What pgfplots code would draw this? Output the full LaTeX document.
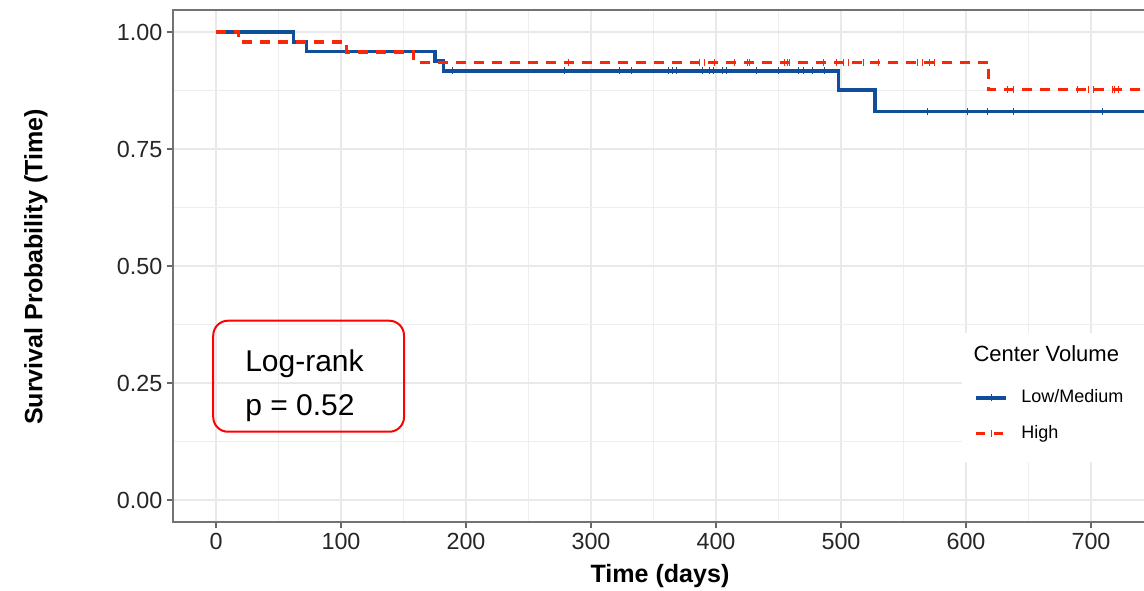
\documentclass[border=0pt]{standalone}
\usepackage{pgfplots}
\pgfplotsset{compat=1.18}
\usepackage{pgfplotstable}
\usepackage{fontspec}
\setmainfont{Liberation Sans}
\usetikzlibrary{calc}
\definecolor{kmblue}{RGB}{16,78,154}
\definecolor{kmred}{RGB}{250,38,8}
\definecolor{gridc}{RGB}{233,233,233}

\pgfplotstableread{
t s
0 1
62 0.979
72.5 0.958
175 0.9375
182 0.917
498 0.876
527 0.830
742.4 0.830
}\lowmed

\pgfplotstableread{
t s
0 1
18 0.978
104.5 0.957
158 0.935
618 0.877
742.4 0.877
}\high

\pgfplotstableread{
t s
188.8 0.917
279 0.917
323 0.917
332 0.917
361.6 0.917
364.8 0.917
368 0.917
388.8 0.917
394.4 0.917
397.6 0.917
404.8 0.917
408 0.917
432 0.917
449.6 0.917
465.6 0.917
469.6 0.917
476.8 0.917
487 0.917
568.8 0.830
600.8 0.830
616.8 0.830
637.6 0.830
708.8 0.830
}\lowmedcens

\pgfplotstableread{
t s
281.6 0.935
387 0.935
391 0.935
399 0.935
415 0.935
425 0.935
427 0.935
455 0.935
457 0.935
459 0.935
485.6 0.935
496 0.935
501.6 0.935
506 0.935
517.6 0.935
530 0.935
561 0.935
565 0.935
571 0.935
575 0.935
633 0.877
637.6 0.877
689 0.877
697.6 0.877
701.6 0.877
717 0.877
719 0.877
721.6 0.877
}\highcens

\pgfplotsset{
  blueleg/.style={legend image code/.code={
    \draw[kmblue, line width=2.7pt] (0pt,0pt) -- (22.5pt,0pt);
    \draw[kmblue, line width=0.7pt] (11.25pt,-2.6pt) -- (11.25pt,2.6pt);}},
  redleg/.style={legend image code/.code={
    \draw[kmred, line width=2.7pt, dash pattern=on 7pt off 6.5pt] (0pt,0pt) -- (22.5pt,0pt);
    \draw[kmred, line width=0.7pt] (11.25pt,-2.6pt) -- (11.25pt,2.6pt);}},
}

\begin{document}
\begin{tikzpicture}
\begin{axis}[
  scale only axis,
  width=728.25pt, height=384pt,
  xmin=-34.4, xmax=742.4, ymin=-0.047, ymax=1.047,
  clip=false,
  axis line style={draw=none},
  xtick={0,100,...,700},
  ytick={0,0.25,0.5,0.75,1},
  minor xtick={50,150,...,750},
  minor ytick={0.125,0.375,0.625,0.875},
  grid=both,
  major grid style={gridc, line width=1.4pt},
  minor grid style={gridc!75, line width=0.75pt},
  tick align=outside,
  major tick length=4.5pt,
  minor tick length=0pt,
  xtick pos=bottom, ytick pos=left,
  tick style={black!60, line width=0.8pt},
  /pgf/number format/assume math mode=true,
  ticklabel style={font=\fontsize{17.5}{19}\selectfont, text=black!85},
  yticklabel style={/pgf/number format/.cd, fixed, fixed zerofill, precision=2},
  xticklabel style={/pgf/number format/.cd, fixed, precision=0},
  xlabel={Time (days)},
  ylabel={Survival Probability (Time)},
  label style={font=\fontsize{18.8}{20}\selectfont\bfseries, text=black},
  xlabel style={at={(axis description cs:0.5015,-0.1055)}, anchor=center},
  ylabel style={at={(axis description cs:-0.1411,0.498)}, anchor=center, rotate=0},
  legend style={at={(axis description cs:0.825,0.2598)}, anchor=north west,
    draw=none, fill=none, inner sep=0pt,
    font=\fontsize{13.5}{15}\selectfont,
    row sep=13.7pt,
    nodes={inner sep=0pt, text height=10pt, text depth=3pt},
    /tikz/every odd column/.append style={column sep=10pt}},
  legend cell align=left,
]
\addplot[kmblue, line width=2.7pt, const plot, forget plot] table[x=t,y=s] {\lowmed};
\addplot[kmred, line width=2.7pt, const plot, dash pattern=on 7.5pt off 6pt, forget plot] table[x=t,y=s] {\high};
\addplot[only marks, mark=|, mark size=2.6pt, mark options={kmblue, line width=0.7pt}, forget plot] table[x=t,y=s] {\lowmedcens};
\addplot[only marks, mark=|, mark size=2.6pt, mark options={kmred, line width=0.7pt}, forget plot] table[x=t,y=s] {\highcens};

% legend background and title
\fill[white] (axis cs:596.8,0.357) rectangle (axis cs:742.4,0.081);
\node[anchor=base west, font=\fontsize{16.5}{18}\selectfont, inner sep=0pt] at (axis cs:605.8,0.2955) {Center Volume};
\addlegendimage{blueleg}
\addlegendentry{Low/Medium}
\addlegendimage{redleg}
\addlegendentry{High}

% Log-rank annotation
\draw[red, line width=1.5pt, rounded corners=11pt] (axis cs:-2.2,0.3831) rectangle (axis cs:150.4,0.1459);
\node[anchor=base west, inner sep=0pt, font=\fontsize{22.5}{24}\selectfont] at (axis cs:23.2,0.2742) {Log-rank};
\node[anchor=base west, inner sep=0pt, font=\fontsize{22.5}{24}\selectfont] at (axis cs:23.2,0.1802) {p = 0.52};

% panel border (right side cut off)
\draw[black!55, line width=0.9pt] (axis description cs:1,1) -- (axis description cs:0,1) -- (axis description cs:0,0) -- (axis description cs:1,0);
\end{axis}
\pgfresetboundingbox
\path[use as bounding box] ($(current axis.south west)+(-129.75pt,-51pt)$) rectangle ($(current axis.north east)+(0pt,7.5pt)$);
\end{tikzpicture}
\end{document}
